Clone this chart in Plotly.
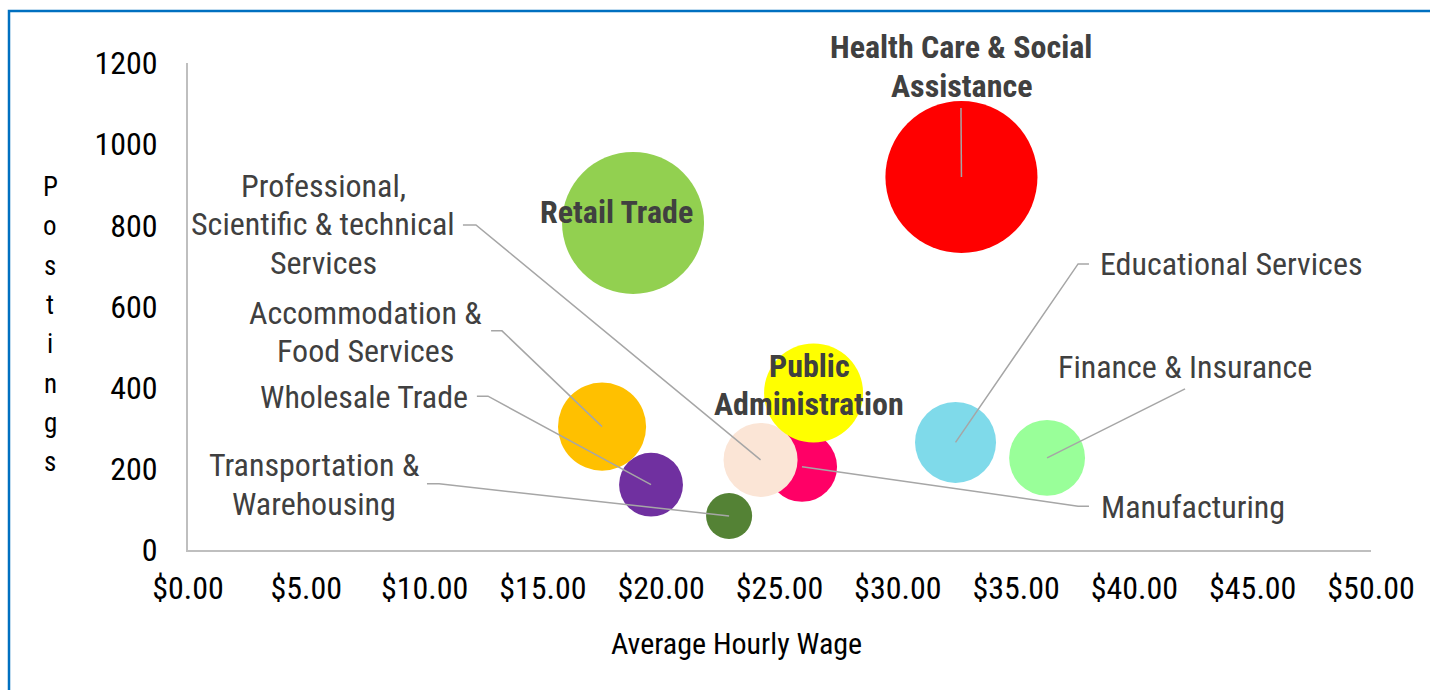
import plotly.graph_objects as go

# ---- data ----
industries = ["Health Care & Social Assistance", "Retail Trade", "Accommodation & Food Services",
              "Wholesale Trade", "Transportation & Warehousing", "Manufacturing",
              "Professional, Scientific & technical Services", "Public Administration",
              "Educational Services", "Finance & Insurance"]
wage = [32.69, 18.81, 17.50, 19.57, 22.87, 25.95, 24.20, 26.44, 32.44, 36.31]
postings = [919, 806, 304, 161, 84, 205, 222, 387, 265, 227]
bubble_size = [5780, 5040, 1940, 1020, 530, 1230, 1370, 2450, 1640, 1440]
colors = ["#FF0000", "#92D050", "#FFC000", "#7030A0", "#548235", "#FF0066",
          "#FBE5D6", "#FFFF00", "#7FDAEA", "#99FF99"]

x_ticks = [0, 5, 10, 15, 20, 25, 30, 35, 40, 45, 50]
y_ticks = [0, 200, 400, 600, 800, 1000, 1200]

FONT = "Roboto Condensed, Liberation Sans Narrow, Roboto, sans-serif"
TXT = "#404040"
LEAD = "#A6A6A6"

fig = go.Figure()
fig.add_trace(go.Scatter(
    x=wage, y=postings, mode="markers", text=industries, hoverinfo="text",
    marker=dict(size=bubble_size, sizemode="area", sizeref=0.5, color=colors,
                opacity=1, line=dict(width=0)),
    showlegend=False))

idx = {n: i for i, n in enumerate(industries)}

# label layout: (name, lines, x, y, xanchor, bold)
labels = [
    ("Health Care & Social Assistance", ["Health Care & Social", "Assistance"], 32.69, 1191, "center", True),
    ("Retail Trade", ["Retail Trade"], 18.09, 833, "center", True),
    ("Public Administration", ["Public", "Administration"], 26.25, 407, "center", True),
    ("Professional, Scientific & technical Services", ["Professional,", "Scientific & technical", "Services"], 5.71, 803, "center", False),
    ("Accommodation & Food Services", ["Accommodation &", "Food Services"], 7.52, 537, "center", False),
    ("Wholesale Trade", ["Wholesale Trade"], 7.42, 377, "center", False),
    ("Transportation & Warehousing", ["Transportation &", "Warehousing"], 5.33, 161, "center", False),
    ("Educational Services", ["Educational Services"], 38.46, 705, "left", False),
    ("Finance & Insurance", ["Finance & Insurance"], 42.14, 451, "center", False),
    ("Manufacturing", ["Manufacturing"], 38.5, 106, "left", False),
]
LINE_H = 38.5
for name, lines, lx, ly, xa, bold in labels:
    n = len(lines)
    for j, t in enumerate(lines):
        shift = ((n - 1) / 2 - j) * LINE_H
        fig.add_annotation(x=lx, y=ly, xref="x", yref="y", yshift=shift,
                           text=(f"<b>{t}</b>" if bold else t),
                           showarrow=False, xanchor=xa, yanchor="middle", align="center",
                           font=dict(family=FONT, size=32, color=TXT))

# leader lines: label-side points, ending at the bubble centre
leaders = {
    "Health Care & Social Assistance": [(32.67, 1089)],
    "Professional, Scientific & technical Services": [(11.62, 801), (12.17, 801)],
    "Accommodation & Food Services": [(12.81, 540), (13.27, 540)],
    "Wholesale Trade": [(12.21, 379), (12.68, 379)],
    "Transportation & Warehousing": [(10.10, 163), (10.61, 163)],
    "Educational Services": [(38.08, 705), (37.62, 705)],
    "Finance & Insurance": [(42.14, 397)],
    "Manufacturing": [(38.08, 108), (37.62, 108)],
}
for name, pts in leaders.items():
    i = idx[name]
    allp = pts + [(wage[i], postings[i])]
    path = "M " + " L ".join(f"{px},{py}" for px, py in allp)
    fig.add_shape(type="path", path=path, xref="x", yref="y",
                  line=dict(color=LEAD, width=1.5), layer="above")

# pixel -> paper helpers
L, R, T, B = 188, 59, 63, 140
W, H = 1430, 690
pw, ph = W - L - R, H - T - B
def px2x(p):
    return (p - L) / pw
def py2y(p):
    return (H - B - p) / ph

# y-axis title, stacked letters
for k, ch in enumerate("Postings"):
    fig.add_annotation(x=px2x(50), y=py2y(187 + k * 39.3), xref="paper", yref="paper",
                       text=ch, showarrow=False, xanchor="center", yanchor="middle",
                       font=dict(family=FONT, size=27, color="#000000"))
# x-axis title
fig.add_annotation(x=px2x(736), y=py2y(643), xref="paper", yref="paper",
                   text="Average Hourly Wage", showarrow=False, xanchor="center", yanchor="middle",
                   font=dict(family=FONT, size=30, color="#000000"))

# frame (left + top border in blue)
fig.add_shape(type="path",
              path=f"M {px2x(9)},{py2y(700)} L {px2x(9)},{py2y(11)} L {px2x(1440)},{py2y(11)}",
              xref="paper", yref="paper", line=dict(color="#0070C0", width=2.5))

fig.update_layout(
    width=W, height=H, margin=dict(l=L, r=R, t=T, b=B),
    paper_bgcolor="white", plot_bgcolor="white",
    font=dict(family=FONT, color="#000000"),
    xaxis=dict(range=[0, 50], tickvals=x_ticks, ticktext=[f"${v:.2f}" for v in x_ticks],
               showgrid=False, zeroline=False, showline=True, linecolor="#BFBFBF", linewidth=2,
               ticks="", tickfont=dict(size=32, color="#000000"), ticklabelstandoff=9),
    yaxis=dict(range=[0, 1200], tickvals=y_ticks, showgrid=False, zeroline=False,
               showline=True, linecolor="#BFBFBF", linewidth=2, ticks="",
               tickfont=dict(size=32, color="#000000"), ticklabelstandoff=22),
)
fig.write_html("out.html")
